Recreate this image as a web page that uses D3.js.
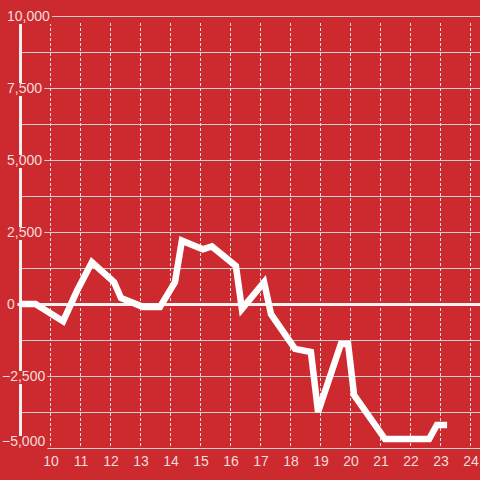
<!DOCTYPE html>
<html><head><meta charset="utf-8">
<script src="https://cdn.jsdelivr.net/npm/d3@7"></script>
<style>html,body{margin:0;padding:0;background:#cc2a2e;}svg{display:block;}</style>
</head><body>
<svg id="chart" width="480" height="480"></svg>
<script>
// Data (hour of day, value)
const times  = [9.0, 9.5, 10.42, 10.88, 11.38, 12.12, 12.35, 13.08, 13.65, 14.15, 14.38, 15.08, 15.38, 16.18, 16.38, 17.12, 17.35, 18.15, 18.68, 18.92, 19.68, 19.92, 20.12, 21.15, 22.62, 22.88, 23.22];
const values = [0, 0, -600, 450, 1450, 760, 210, -100, -100, 760, 2200, 1900, 2000, 1320, -170, 760, -350, -1560, -1670, -3750, -1390, -1390, -3160, -4690, -4690, -4200, -4200];
const xTicks = [10, 11, 12, 13, 14, 15, 16, 17, 18, 19, 20, 21, 22, 23, 24];
const yTicks = [-5000, -2500, 0, 2500, 5000, 7500, 10000];
const yGrid  = [-5000, -3750, -2500, -1250, 0, 1250, 2500, 3750, 5000, 6250, 7500, 8750, 10000];

const bg = "#cc2a2e", labelColor = "#f4dcdc";
const svg = d3.select("#chart");
const x = d3.scaleLinear().domain([9, 24.3]).range([20.5, 479.5]);
const y = d3.scaleLinear().domain([-5000, 10000]).range([448, 16]);

svg.append("rect").attr("width", 480).attr("height", 480).attr("fill", bg);

// horizontal gridlines
svg.append("g").selectAll("line").data(yGrid).join("line")
  .attr("x1", x.range()[0]).attr("x2", 480)
  .attr("y1", d => Math.round(y(d)) + 0.5).attr("y2", d => Math.round(y(d)) + 0.5)
  .attr("stroke", "#cfcfcf").attr("stroke-width", 1.2);

// vertical dashed gridlines
svg.append("g").selectAll("line").data(xTicks).join("line")
  .attr("x1", d => x(d)).attr("x2", d => x(d))
  .attr("y1", y(10000) + 7).attr("y2", y(-5000))
  .attr("stroke", "#e2e2e2").attr("stroke-width", 1).attr("stroke-dasharray", "3,2");

// zero line
svg.append("line").attr("x1", x.range()[0] - 3).attr("x2", 480)
  .attr("y1", y(0) + 0.5).attr("y2", y(0) + 0.5)
  .attr("stroke", "#f6f2f2").attr("stroke-width", 3);

// y axis bar
svg.append("line").attr("x1", x.range()[0]).attr("x2", x.range()[0])
  .attr("y1", y(10000)).attr("y2", y(-5000))
  .attr("stroke", "#f2eeee").attr("stroke-width", 3);

// data line
const pts = times.map((t, i) => [t, values[i]]);
svg.append("path").datum(pts)
  .attr("d", d3.line().x(d => x(d[0])).y(d => y(d[1])))
  .attr("fill", "none").attr("stroke", "#ffffff").attr("stroke-width", 6.5)
  .attr("stroke-linejoin", "miter").attr("stroke-linecap", "butt");

// y labels with background boxes
const fmt = d3.format(",");
const yl = svg.append("g");
const yMin = d3.min(yTicks);
yTicks.forEach(v => {
  const g = yl.append("g");
  const cy = y(v) - (v === yMin ? 7 : 0);
  const t = g.append("text")
    .attr("x", v < 0 ? 2 : 7).attr("y", cy + 5)
    .attr("font-family", "Liberation Sans, Arial, sans-serif").attr("font-size", 14)
    .attr("fill", labelColor).text(fmt(v));
  const b = t.node().getBBox();
  g.insert("rect", "text").attr("x", b.x - 1).attr("y", cy - 5)
    .attr("width", b.width + 3).attr("height", 13).attr("fill", bg);
});

// x labels
svg.append("g").selectAll("text").data(xTicks).join("text")
  .attr("x", d => x(d) + 0.5).attr("y", 466).attr("text-anchor", "middle")
  .attr("font-family", "Liberation Sans, Arial, sans-serif").attr("font-size", 14)
  .attr("fill", labelColor).text(d => d);
</script>
</body></html>
